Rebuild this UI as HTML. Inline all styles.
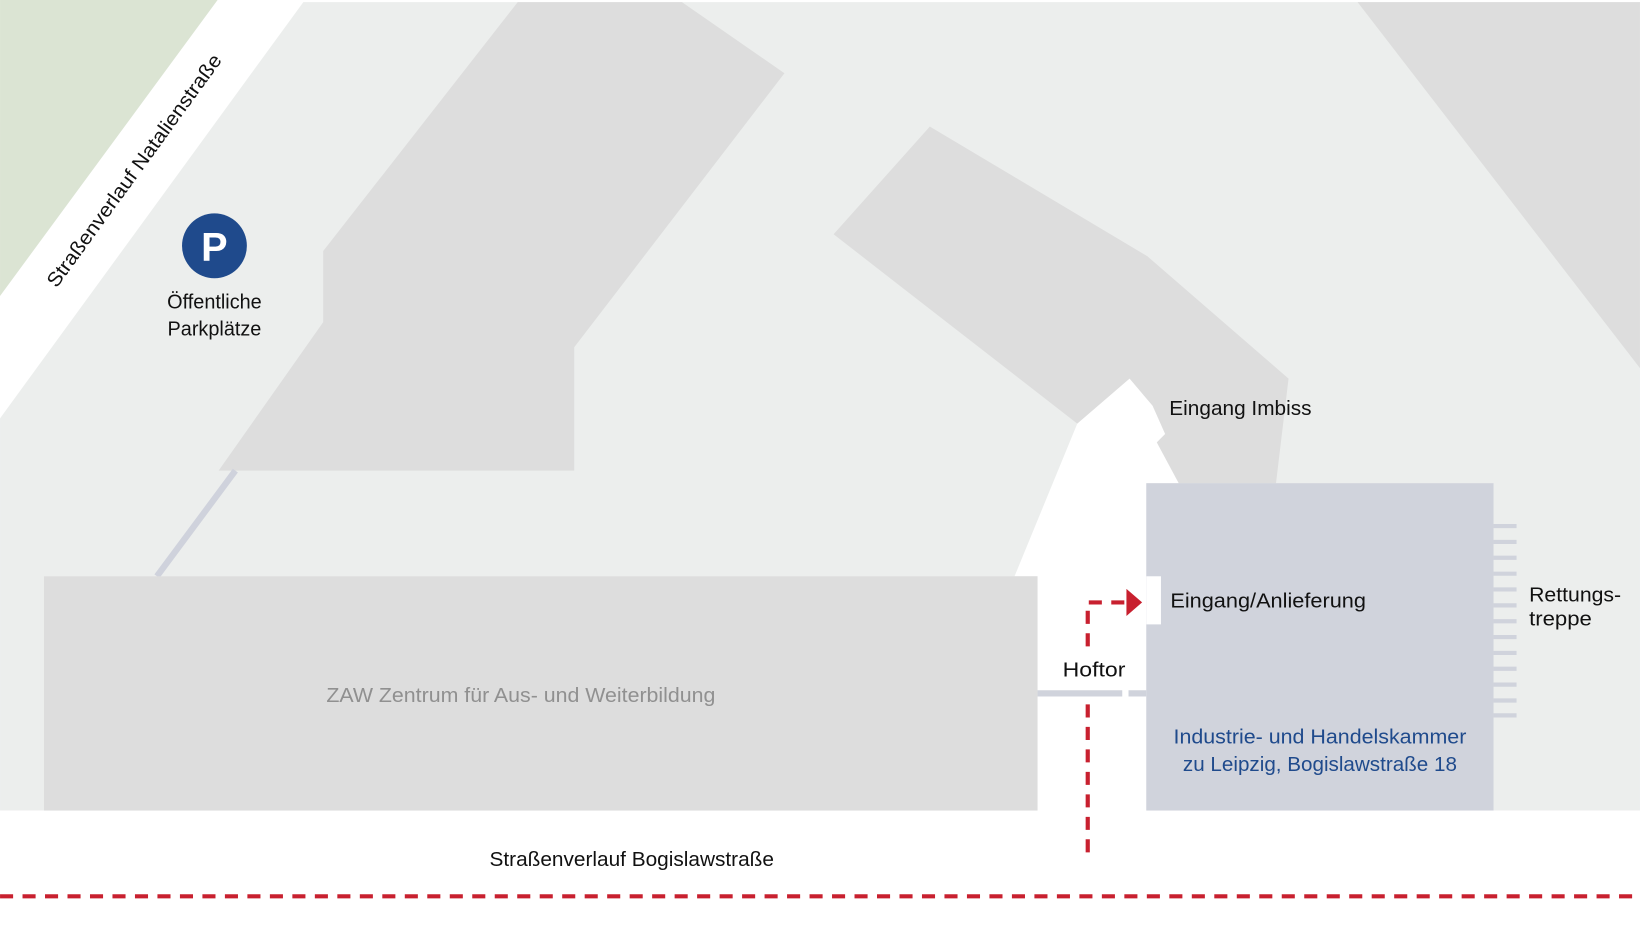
<!DOCTYPE html>
<html><head><meta charset="utf-8"><style>html,body{margin:0;padding:0;background:#fff}svg{display:block}</style></head>
<body>
<svg width="1640" height="944" viewBox="0 0 1568 902.6" xmlns="http://www.w3.org/2000/svg" font-family="Liberation Sans, sans-serif">
<rect width="1568" height="903" fill="#fff"/>
<polygon points="290,2 1568,2 1568,775 0,775 0,400" fill="#eceeed"/>
<polygon points="0,0 208,0 0,283" fill="#dbe4d3"/>
<polygon points="495,2 652,2 750,70 549,332 549,450 209,450 309,308 309,240" fill="#dddddd"/>
<line x1="225" y1="450" x2="150" y2="551" stroke="#cfd2dc" stroke-width="6"/>
<polygon points="797,224 889,121 1097,245 1232,362 1220,462 1127,462 1030,405" fill="#dddddd"/>
<polygon points="1298,2 1568,2 1568,352" fill="#dddddd"/>
<polygon points="970,551 1030,405 1080,362 1102,388 1114,415 1106,423 1127,462 1096,462 1096,775 992,775 992,551" fill="#fff"/>
<rect x="42" y="551" width="950" height="224" fill="#dddddd"/>
<rect x="1096" y="462" width="332" height="313" fill="#d0d3dc"/>
<rect x="1096" y="551" width="14" height="46" fill="#fff"/>
<g stroke="#d0d3dc" stroke-width="4">
<line x1="1428" y1="503" x2="1450" y2="503"/><line x1="1428" y1="518.2" x2="1450" y2="518.2"/><line x1="1428" y1="533.3" x2="1450" y2="533.3"/><line x1="1428" y1="548.5" x2="1450" y2="548.5"/><line x1="1428" y1="563.6" x2="1450" y2="563.6"/><line x1="1428" y1="578.8" x2="1450" y2="578.8"/><line x1="1428" y1="594" x2="1450" y2="594"/><line x1="1428" y1="609.1" x2="1450" y2="609.1"/><line x1="1428" y1="624.3" x2="1450" y2="624.3"/><line x1="1428" y1="639.4" x2="1450" y2="639.4"/><line x1="1428" y1="654.6" x2="1450" y2="654.6"/><line x1="1428" y1="669.8" x2="1450" y2="669.8"/><line x1="1428" y1="684" x2="1450" y2="684"/>
</g>
<line x1="992" y1="663" x2="1073" y2="663" stroke="#d0d3dc" stroke-width="6"/>
<line x1="1079" y1="663" x2="1096" y2="663" stroke="#d0d3dc" stroke-width="6"/>
<g stroke="#c8202f" stroke-width="4" fill="none" stroke-dasharray="12.5 9">
<line x1="1040" y1="815" x2="1040" y2="672"/>
<polyline points="1040,618 1040,576 1078,576"/>
<line x1="0" y1="857" x2="1568" y2="857"/>
</g>
<polygon points="1077,563 1092,576 1077,589" fill="#c8202f"/>
<circle cx="205" cy="235" r="31" fill="#1f4a8c"/>
<text x="205" y="249" font-size="38" font-weight="bold" fill="#fff" text-anchor="middle">P</text>
<g font-size="19" fill="#111">
<text x="205" y="295" text-anchor="middle">Öffentliche</text>
<text x="205" y="321" text-anchor="middle">Parkplätze</text>
<text x="1118" y="397" textLength="136" lengthAdjust="spacingAndGlyphs">Eingang Imbiss</text>
<text x="1119" y="581" textLength="187" lengthAdjust="spacingAndGlyphs">Eingang/Anlieferung</text>
<text x="1016" y="647" textLength="60" lengthAdjust="spacingAndGlyphs">Hoftor</text>
<text x="1462" y="575" textLength="88" lengthAdjust="spacingAndGlyphs">Rettungs-</text>
<text x="1462" y="598" textLength="60" lengthAdjust="spacingAndGlyphs">treppe</text>
<text x="468" y="828" textLength="272" lengthAdjust="spacingAndGlyphs">Straßenverlauf Bogislawstraße</text>
<text transform="translate(54,276) rotate(-54)" textLength="270" lengthAdjust="spacingAndGlyphs">Straßenverlauf Natalienstraße</text>
</g>
<text x="312" y="671" font-size="19" fill="#909090" textLength="372" lengthAdjust="spacingAndGlyphs">ZAW Zentrum für Aus- und Weiterbildung</text>
<g font-size="19" fill="#1f4a8c">
<text x="1122" y="711" textLength="280" lengthAdjust="spacingAndGlyphs">Industrie- und Handelskammer</text>
<text x="1131" y="737" textLength="262" lengthAdjust="spacingAndGlyphs">zu Leipzig, Bogislawstraße 18</text>
</g>
</svg>
</body></html>
